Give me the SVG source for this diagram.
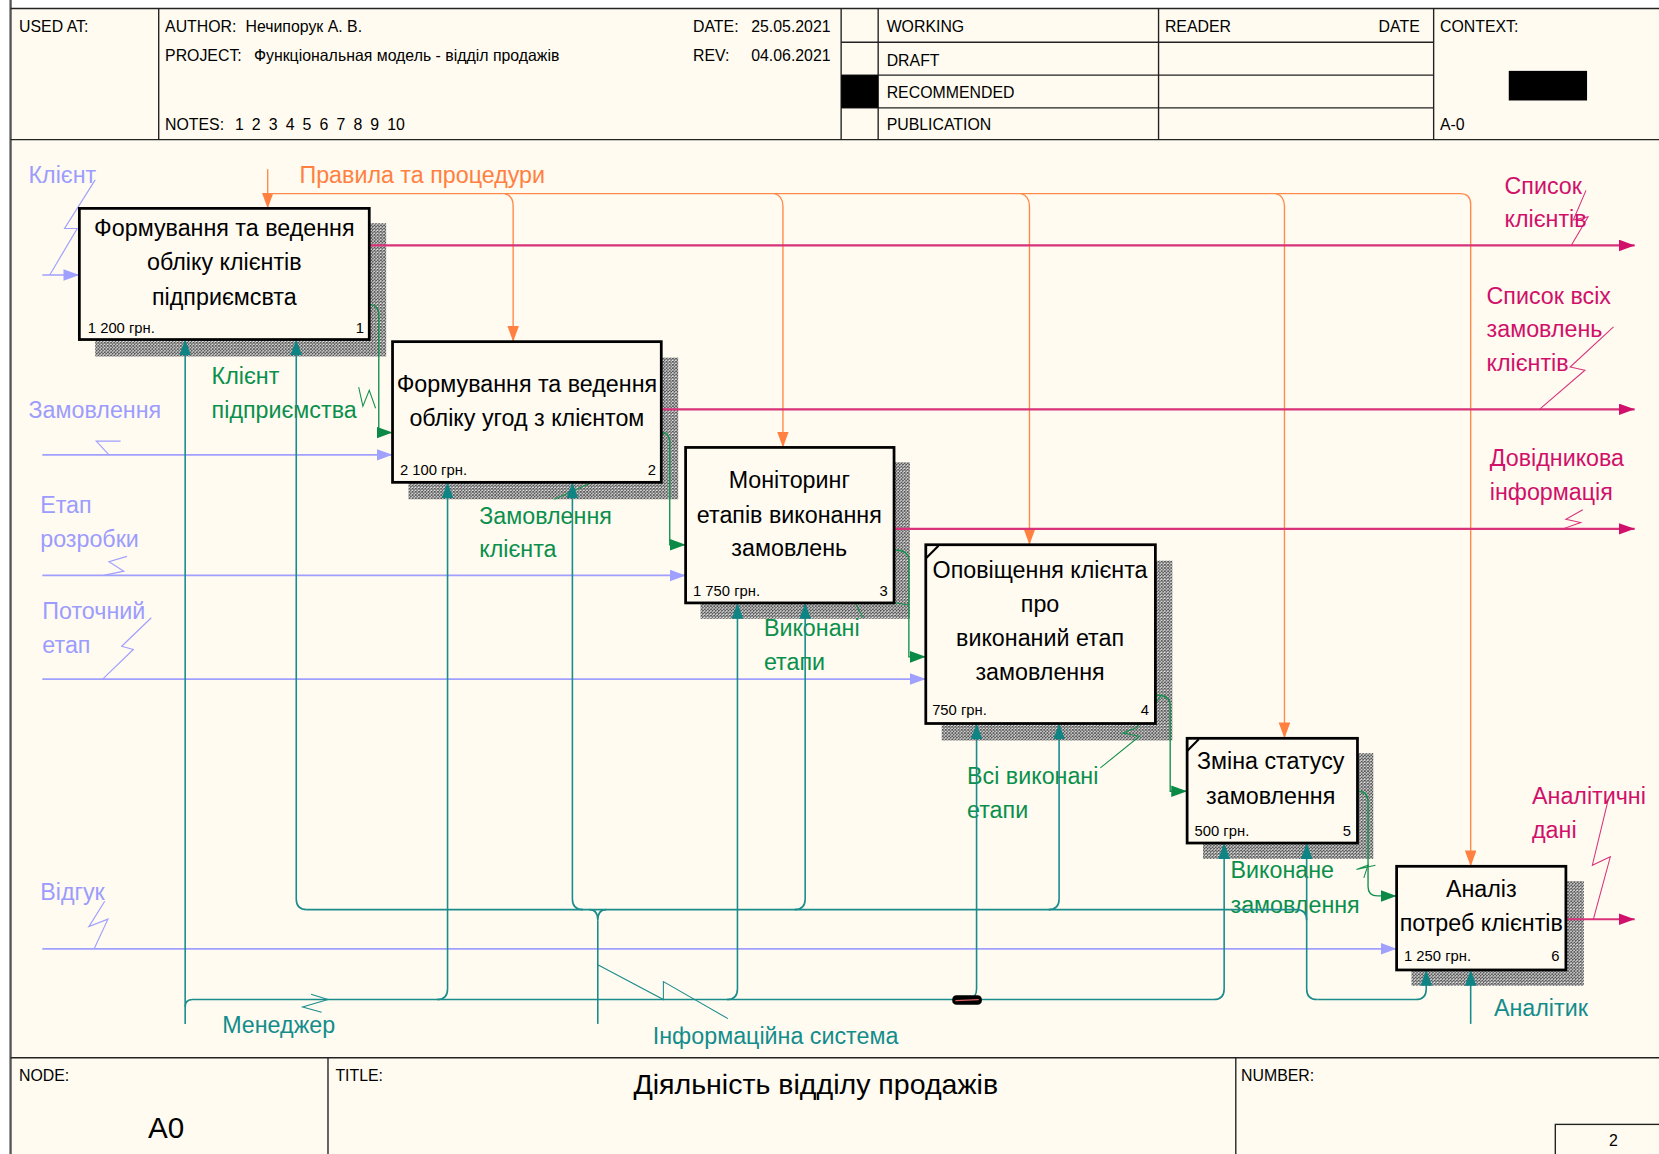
<svg xmlns="http://www.w3.org/2000/svg" width="1659" height="1154" viewBox="0 0 1659 1154">
  <style>
    text { font-family: "Liberation Sans", Arial, sans-serif; }
    .hdr { font-size: 15px; fill: #000; }
    .rule { stroke: #222; stroke-width: 1.3; fill: none; }
    .box { fill: #FFFBF0; stroke: #000; stroke-width: 2.6; }
    .shadow { fill: url(#hatch); }
    .name { font-size: 22px; fill: #000; text-anchor: middle; }
    .cost { font-size: 14px; fill: #000; }
    .num { font-size: 14px; fill: #000; text-anchor: end; }
    .tick { stroke: #000; stroke-width: 2; }
    .lbl { font-size: 22px; }
    .ctl { stroke: #FF8A4C; stroke-width: 1.3; fill: none; }
    .inp { stroke: #A0A0FF; stroke-width: 1.6; fill: none; }
    .out { stroke: #D8327A; stroke-width: 2; fill: none; }
    .mech { stroke: #1A8C8C; stroke-width: 1.5; fill: none; }
    .flow { stroke: #14904E; stroke-width: 1.3; fill: none; }
    .sq-inp { stroke: #A0A0FF; stroke-width: 1.1; fill: none; }
    .sq-out { stroke: #D8327A; stroke-width: 1; fill: none; }
    .sq-mech { stroke: #1A8C8C; stroke-width: 1; fill: none; }
    .sq-flow { stroke: #14904E; stroke-width: 1; fill: none; }
    .t-ctl { fill: #FF8040; }
    .t-inp { fill: #9C9CFF; }
    .t-out { fill: #D0106A; }
    .t-mech { fill: #138C8C; }
    .t-flow { fill: #0A8F4C; }
  </style>
  <defs>
    <pattern id="hatch" width="3" height="3" patternUnits="userSpaceOnUse">
      <rect width="3" height="3" fill="#EFEFEF"/>
      <path d="M0,0 L3,3 M3,0 L0,3" stroke="#505050" stroke-width="0.9"/>
    </pattern>
    <marker id="a-ctl" markerWidth="16" markerHeight="12" refX="15" refY="5.5" orient="auto" markerUnits="userSpaceOnUse">
      <path d="M0,0 L15,5.5 L0,11 z" fill="#FF8040"/>
    </marker>
    <marker id="a-inp" markerWidth="16" markerHeight="12" refX="15" refY="5.5" orient="auto" markerUnits="userSpaceOnUse">
      <path d="M0,0 L15,5.5 L0,11 z" fill="#A0A0FF"/>
    </marker>
    <marker id="a-out" markerWidth="16" markerHeight="12" refX="15" refY="5.5" orient="auto" markerUnits="userSpaceOnUse">
      <path d="M0,0 L15,5.5 L0,11 z" fill="#D0106A"/>
    </marker>
    <marker id="a-mech" markerWidth="16" markerHeight="12" refX="15" refY="5.5" orient="auto" markerUnits="userSpaceOnUse">
      <path d="M0,0 L15,5.5 L0,11 z" fill="#0F8484"/>
    </marker>
    <marker id="a-flow" markerWidth="16" markerHeight="12" refX="15" refY="5.5" orient="auto" markerUnits="userSpaceOnUse">
      <path d="M0,0 L15,5.5 L0,11 z" fill="#0A8A46"/>
    </marker>
  </defs>

  <rect width="1659" height="1154" fill="#FFFFFF"/>

  <g transform="scale(1.05804,1.05775)">
    <!-- sheet and form frame -->
    <g id="frame">
      <rect x="11" y="8" width="1560" height="1090" fill="#FFFBF0"/>
      <line x1="10" y1="0" x2="10" y2="1095" stroke="#555" stroke-width="2.2"/>
      <line x1="10" y1="8" x2="1570" y2="8" class="rule"/>
      <line x1="10" y1="132" x2="1570" y2="132" class="rule"/>
      <line x1="150" y1="8" x2="150" y2="132" class="rule"/>
      <line x1="795" y1="8" x2="795" y2="132" class="rule"/>
      <line x1="830" y1="8" x2="830" y2="132" class="rule"/>
      <line x1="1095" y1="8" x2="1095" y2="132" class="rule"/>
      <line x1="1355" y1="8" x2="1355" y2="132" class="rule"/>
      <line x1="795" y1="40" x2="1355" y2="40" class="rule"/>
      <line x1="795" y1="71" x2="1355" y2="71" class="rule"/>
      <line x1="795" y1="102" x2="1355" y2="102" class="rule"/>
      <rect x="795" y="71" width="35" height="31" fill="#000"/>
      <rect x="1426" y="67" width="74" height="28" fill="#000"/>

      <text x="18" y="30" class="hdr">USED AT:</text>
      <text x="156" y="30" class="hdr">AUTHOR:</text>
      <text x="232" y="30" class="hdr">Нечипорук А. В.</text>
      <text x="156" y="58" class="hdr">PROJECT:</text>
      <text x="240" y="58" class="hdr">Функціональная модель - відділ продажів</text>
      <text x="156" y="123" class="hdr">NOTES:</text>
      <text x="222" y="123" class="hdr" style="word-spacing:3.5px">1 2 3 4 5 6 7 8 9 10</text>
      <text x="655" y="30" class="hdr">DATE:</text>
      <text x="710" y="30" class="hdr">25.05.2021</text>
      <text x="655" y="58" class="hdr">REV:</text>
      <text x="710" y="58" class="hdr">04.06.2021</text>
      <text x="838" y="30" class="hdr">WORKING</text>
      <text x="838" y="62" class="hdr">DRAFT</text>
      <text x="838" y="93" class="hdr">RECOMMENDED</text>
      <text x="838" y="123" class="hdr">PUBLICATION</text>
      <text x="1101" y="30" class="hdr">READER</text>
      <text x="1303" y="30" class="hdr">DATE</text>
      <text x="1361" y="30" class="hdr">CONTEXT:</text>
      <text x="1361" y="123" class="hdr">A-0</text>

      <line x1="10" y1="1000" x2="1570" y2="1000" class="rule"/>
      <line x1="310" y1="1000" x2="310" y2="1095" class="rule"/>
      <line x1="1168" y1="1000" x2="1168" y2="1095" class="rule"/>
      <rect x="1470" y="1063" width="110" height="40" class="rule"/>
      <text x="18" y="1022" class="hdr">NODE:</text>
      <text x="140" y="1076" style="font-size:28px">A0</text>
      <text x="317" y="1022" class="hdr">TITLE:</text>
      <text x="771" y="1034" style="font-size:27px" text-anchor="middle">Діяльність відділу продажів</text>
      <text x="1173" y="1022" class="hdr">NUMBER:</text>
      <text x="1525" y="1083" class="hdr" text-anchor="middle">2</text>
    </g>

    <!-- activity shadows, drawn first so boxes sit on top -->
    <g id="shadows">
      <rect x="90" y="211" width="275" height="126" class="shadow"/>
      <rect x="386" y="338" width="255" height="134" class="shadow"/>
      <rect x="662" y="437" width="198" height="148" class="shadow"/>
      <rect x="890" y="530" width="218" height="170" class="shadow"/>
      <rect x="1137" y="712" width="161" height="100" class="shadow"/>
      <rect x="1334" y="833" width="163" height="99" class="shadow"/>
    </g>

    <g id="connectors">
      <!-- control: rules and procedures -->
      <path d="M253,160 L253,197" class="ctl" marker-end="url(#a-ctl)"/>
      <path d="M253,183 L1380,183 Q1390,183 1390,193 L1390,819" class="ctl" marker-end="url(#a-ctl)"/>
      <path d="M477,183 Q485,185 485,195 L485,323" class="ctl" marker-end="url(#a-ctl)"/>
      <path d="M732,183 Q740,185 740,195 L740,423" class="ctl" marker-end="url(#a-ctl)"/>
      <path d="M965,183 Q973,185 973,195 L973,515" class="ctl" marker-end="url(#a-ctl)"/>
      <path d="M1206,183 Q1214,185 1214,195 L1214,698" class="ctl" marker-end="url(#a-ctl)"/>
      <text x="283" y="173" class="lbl t-ctl">Правила та процедури</text>

      <!-- inputs -->
      <path d="M40,260 L75,260" class="inp" marker-end="url(#a-inp)"/>
      <polyline points="90,170 61,216 73,216 47,260" class="sq-inp"/>
      <text x="27" y="173" class="lbl t-inp">Клієнт</text>

      <path d="M40,430 L371,430" class="inp" marker-end="url(#a-inp)"/>
      <polyline points="114,417 91,417 103,430" class="sq-inp"/>
      <text x="27" y="395" class="lbl t-inp">Замовлення</text>

      <path d="M40,544 L648,544" class="inp" marker-end="url(#a-inp)"/>
      <polyline points="120,526 103,531 117,540 98,544" class="sq-inp"/>
      <text x="38" y="485" class="lbl t-inp">Етап</text>
      <text x="38" y="517" class="lbl t-inp">розробки</text>

      <path d="M40,642 L875,642" class="inp" marker-end="url(#a-inp)"/>
      <polyline points="143,584 115,611 126,614 97,642" class="sq-inp"/>
      <text x="40" y="585" class="lbl t-inp">Поточний</text>
      <text x="40" y="617" class="lbl t-inp">етап</text>

      <path d="M40,897 L1320,897" class="inp" marker-end="url(#a-inp)"/>
      <polyline points="99,852 84,876 102,869 89,897" class="sq-inp"/>
      <text x="38" y="851" class="lbl t-inp">Відгук</text>

      <!-- outputs -->
      <path d="M349,232 L1545,232" class="out" marker-end="url(#a-out)"/>
      <polyline points="1499,180 1487,208 1501,205 1485,232" class="sq-out"/>
      <text x="1422" y="183" class="lbl t-out">Список</text>
      <text x="1422" y="215" class="lbl t-out">клієнтів</text>

      <path d="M625,387 L1545,387" class="out" marker-end="url(#a-out)"/>
      <polyline points="1525,309 1484,347 1498,350 1455,387" class="sq-out"/>
      <text x="1405" y="287" class="lbl t-out">Список всіх</text>
      <text x="1405" y="319" class="lbl t-out">замовлень</text>
      <text x="1405" y="351" class="lbl t-out">клієнтів</text>

      <path d="M845,500 L1545,500" class="out" marker-end="url(#a-out)"/>
      <polyline points="1496,482 1480,491 1494,494 1477,500" class="sq-out"/>
      <text x="1408" y="441" class="lbl t-out">Довідникова</text>
      <text x="1408" y="473" class="lbl t-out">інформація</text>

      <path d="M1480,869 L1545,869" class="out" marker-end="url(#a-out)"/>
      <polyline points="1520,756 1505,818 1522,810 1506,869" class="sq-out"/>
      <text x="1448" y="760" class="lbl t-out">Аналітичні</text>
      <text x="1448" y="792" class="lbl t-out">дані</text>

      <!-- outputs feeding the next activity -->
      <path d="M349,288 Q358,288 358,298 L358,409 L371,409" class="flow" marker-end="url(#a-flow)"/>
      <polyline points="339,366 343,384 349,369 355,386" class="sq-flow"/>
      <text x="200" y="363" class="lbl t-flow">Клієнт</text>
      <text x="200" y="395" class="lbl t-flow">підприємства</text>

      <path d="M625,409 Q633,409 633,419 L633,515 L648,515" class="flow" marker-end="url(#a-flow)"/>
      <polyline points="629,409 568,434 581,445 555,458 524,472" class="sq-flow"/>
      <text x="453" y="495" class="lbl t-flow">Замовлення</text>
      <text x="453" y="527" class="lbl t-flow">клієнта</text>

      <path d="M845,520 Q859,520 859,530 L859,621 L875,621" class="flow" marker-end="url(#a-flow)"/>
      <polyline points="859,572 834,568 806,566 816,584" class="sq-flow"/>
      <text x="722" y="601" class="lbl t-flow">Виконані</text>
      <text x="722" y="633" class="lbl t-flow">етапи</text>

      <path d="M1092,657 Q1106,657 1106,667 L1106,748 L1122,748" class="flow" marker-end="url(#a-flow)"/>
      <polyline points="1098,657 1074,688 1061,693 1077,696 1040,726" class="sq-flow"/>
      <text x="914" y="741" class="lbl t-flow">Всі виконані</text>
      <text x="914" y="773" class="lbl t-flow">етапи</text>

      <path d="M1283,748 Q1293,748 1293,758 L1293,838 Q1293,847 1302,847 L1320,847" class="flow" marker-end="url(#a-flow)"/>
      <polyline points="1300,818 1282,822 1293,818 1289,830" class="sq-flow"/>
      <text x="1163" y="830" class="lbl t-flow">Виконане</text>
      <text x="1163" y="863" class="lbl t-flow">замовлення</text>

      <!-- mechanism: manager -->
      <path d="M175,968 L175,321" class="mech" marker-end="url(#a-mech)"/>
      <path d="M175,952 Q175,945 182,945 L1147,945 Q1157,945 1157,935 L1157,797" class="mech" marker-end="url(#a-mech)"/>
      <path d="M413,945 Q423,945 423,935 L423,456" class="mech" marker-end="url(#a-mech)"/>
      <path d="M687,945 Q697,945 697,935 L697,570" class="mech" marker-end="url(#a-mech)"/>
      <path d="M916,945 Q923,943 923,935 L923,684" class="mech" marker-end="url(#a-mech)"/>
      <rect x="900" y="941" width="28" height="9" rx="4" fill="#000"/>
      <line x1="903" y1="946" x2="925" y2="945" stroke="#E06060" stroke-width="1.2"/>
      <polyline points="294,940 310,945 286,952 304,957" class="sq-mech"/>
      <text x="210" y="977" class="lbl t-mech">Менеджер</text>

      <!-- mechanism: information system -->
      <path d="M565,968 L565,870" class="mech"/>
      <path d="M557,860 Q565,860 565,870 Q565,860 573,860" class="mech"/>
      <path d="M290,860 L1225,860 Q1235,860 1235,870" class="mech"/>
      <path d="M290,860 Q280,860 280,850 L280,321" class="mech" marker-end="url(#a-mech)"/>
      <path d="M551,860 Q541,860 541,850 L541,456" class="mech" marker-end="url(#a-mech)"/>
      <path d="M751,860 Q761,860 761,850 L761,570" class="mech" marker-end="url(#a-mech)"/>
      <path d="M991,860 Q1001,860 1001,850 L1001,684" class="mech" marker-end="url(#a-mech)"/>
      <path d="M1245,945 Q1235,945 1235,935 L1235,797" class="mech" marker-end="url(#a-mech)"/>
      <path d="M1245,945 L1338,945 Q1348,945 1348,935 L1348,917" class="mech" marker-end="url(#a-mech)"/>
      <polyline points="565,912 627,945 627,928 688,963" class="sq-mech"/>
      <text x="617" y="987" class="lbl t-mech">Інформаційна система</text>

      <!-- mechanism: analyst -->
      <path d="M1390,968 L1390,917" class="mech" marker-end="url(#a-mech)"/>
      <text x="1412" y="961" class="lbl t-mech">Аналітик</text>
    </g>

    <g id="node-1">
      <rect x="75" y="197" width="274" height="124" class="box"/>
      <text x="212" y="223" class="name">Формування та ведення</text>
      <text x="212" y="255" class="name">обліку клієнтів</text>
      <text x="212" y="288" class="name">підприємсвта</text>
      <text x="83" y="315" class="cost">1 200 грн.</text>
      <text x="344" y="315" class="num">1</text>
    </g>
    <g id="node-2">
      <rect x="371" y="323" width="254" height="133" class="box"/>
      <text x="498" y="371" class="name">Формування та ведення</text>
      <text x="498" y="403" class="name">обліку угод з клієнтом</text>
      <text x="378" y="449" class="cost">2 100 грн.</text>
      <text x="620" y="449" class="num">2</text>
    </g>
    <g id="node-3">
      <rect x="648" y="423" width="197" height="147" class="box"/>
      <text x="746" y="461" class="name">Моніторинг</text>
      <text x="746" y="494" class="name">етапів виконання</text>
      <text x="746" y="526" class="name">замовлень</text>
      <text x="655" y="563" class="cost">1 750 грн.</text>
      <text x="839" y="563" class="num">3</text>
    </g>
    <g id="node-4">
      <rect x="875" y="515" width="217" height="169" class="box"/>
      <line x1="875" y1="528" x2="887" y2="516" class="tick"/>
      <text x="983" y="546" class="name">Оповіщення клієнта</text>
      <text x="983" y="579" class="name">про</text>
      <text x="983" y="611" class="name">виконаний етап</text>
      <text x="983" y="643" class="name">замовлення</text>
      <text x="881" y="676" class="cost">750 грн.</text>
      <text x="1086" y="676" class="num">4</text>
    </g>
    <g id="node-5">
      <rect x="1122" y="698" width="161" height="99" class="box"/>
      <line x1="1122" y1="710" x2="1133" y2="699" class="tick"/>
      <text x="1201" y="727" class="name">Зміна статусу</text>
      <text x="1201" y="760" class="name">замовлення</text>
      <text x="1129" y="790" class="cost">500 грн.</text>
      <text x="1277" y="790" class="num">5</text>
    </g>
    <g id="node-6">
      <rect x="1320" y="819" width="160" height="98" class="box"/>
      <text x="1400" y="848" class="name">Аналіз</text>
      <text x="1400" y="880" class="name">потреб клієнтів</text>
      <text x="1327" y="909" class="cost">1 250 грн.</text>
      <text x="1474" y="909" class="num">6</text>
    </g>
  </g>
</svg>
